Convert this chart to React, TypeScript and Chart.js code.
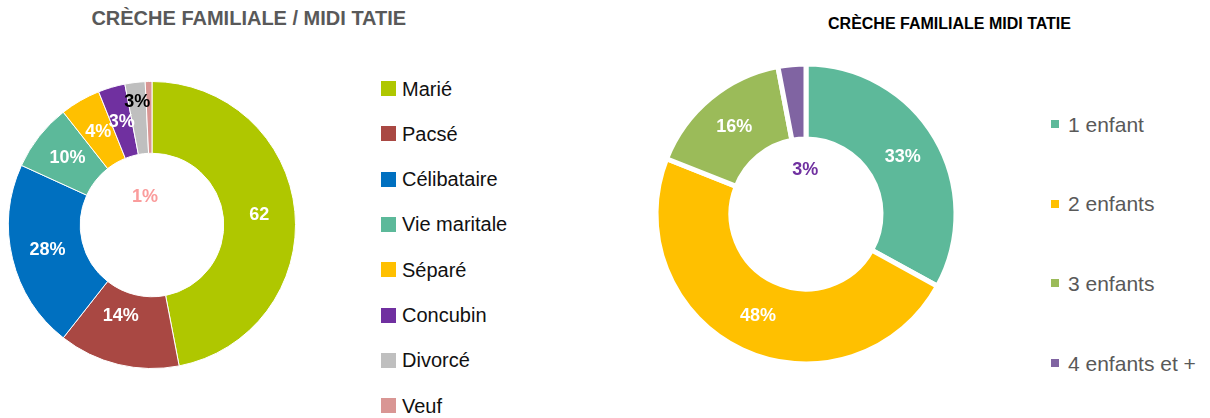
import React, { useEffect, useRef } from "react";
import { Chart, registerables } from "chart.js";

Chart.register(...registerables);

// ---------- data ----------
const leftTitle = "CRÈCHE FAMILIALE / MIDI TATIE";
const leftCategories = ["Marié", "Pacsé", "Célibataire", "Vie maritale", "Séparé", "Concubin", "Divorcé", "Veuf"];
const leftValues = [62, 18, 28, 10, 6, 4, 3, 1];
const leftLabels = ["62", "14%", "28%", "10%", "4%", "3%", "3%", "1%"];

const rightTitle = "CRÈCHE FAMILIALE MIDI TATIE";
const rightCategories = ["1 enfant", "2 enfants", "3 enfants", "4 enfants et +"];
const rightValues = [33, 48, 16, 3];
const rightLabels = ["33%", "48%", "16%", "3%"];

// ---------- styles ----------
const leftColors = ["#AFC700", "#A94843", "#0070C0", "#5CB99A", "#FFC000", "#7030A0", "#BFBFBF", "#D99694"];
const leftLabelColors = ["#FFFFFF", "#FFFFFF", "#FFFFFF", "#FFFFFF", "#FFFFFF", "#FFFFFF", "#000000", "#FA9C9C"];
const leftLabelRadii: (number | null)[] = [null, 0.67, null, null, null, null, 0.863, 0.204];
const leftLabelAngles: (number | null)[] = [null, 199, null, null, null, null, null, 346];

const rightColors = ["#5DB99A", "#FFC000", "#9BBB59", "#8064A2"];
const rightLabelColors = ["#FFFFFF", "#FFFFFF", "#FFFFFF", "#7030A0"];
const rightLabelRadii: (number | null)[] = [null, null, null, 0.294];
const rightLabelAngles: (number | null)[] = [null, null, null, 359];

const FONT = "'Liberation Sans', Arial, sans-serif";

const sliceLabels = {
  id: "sliceLabels",
  afterDatasetsDraw(chart: any, _args: any, opts: any) {
    const meta = chart.getDatasetMeta(0);
    const ctx = chart.ctx;
    ctx.save();
    ctx.font = `bold 18px ${FONT}`;
    ctx.textAlign = "center";
    ctx.textBaseline = "middle";
    meta.data.forEach((arc: any, i: number) => {
      const p = arc.getProps(["x", "y", "startAngle", "endAngle", "innerRadius", "outerRadius"], true);
      const ang = opts.angles[i] != null ? ((opts.angles[i] - 90) * Math.PI) / 180 : (p.startAngle + p.endAngle) / 2;
      const r = opts.radii[i] != null ? opts.radii[i] * p.outerRadius : (p.innerRadius + p.outerRadius) / 2;
      ctx.fillStyle = opts.colors[i];
      ctx.fillText(opts.labels[i], p.x + Math.cos(ang) * r, p.y + Math.sin(ang) * r);
    });
    ctx.restore();
  },
};

function Donut(props: any) {
  const ref = useRef<HTMLCanvasElement>(null);
  useEffect(() => {
    const chart = new Chart(ref.current as HTMLCanvasElement, {
      type: "doughnut",
      data: {
        labels: props.categories,
        datasets: [
          {
            data: props.values,
            backgroundColor: props.colors,
            borderColor: "#FFFFFF",
            borderWidth: props.borderWidth,
            radius: props.radius,
            cutout: props.cutout,
          } as any,
        ],
      },
      options: {
        responsive: false,
        maintainAspectRatio: false,
        animation: false,
        events: [],
        layout: { padding: 0 },
        plugins: {
          legend: { display: false },
          tooltip: { enabled: false },
          title: { display: false },
          sliceLabels: {
            labels: props.labels,
            colors: props.labelColors,
            radii: props.labelRadii,
            angles: props.labelAngles,
          },
        } as any,
      },
      plugins: [sliceLabels as any],
    });
    return () => chart.destroy();
  }, []);
  return (
    <canvas
      ref={ref}
      width={props.size}
      height={props.size}
      style={{ position: "absolute", left: props.left, top: props.top, width: props.size, height: props.size }}
    />
  );
}

function Legend(props: any) {
  return (
    <>
      {props.categories.map((c: string, i: number) => {
        const cy = props.y0 + i * props.step;
        return (
          <React.Fragment key={c}>
            <div
              style={{
                position: "absolute",
                left: props.sqX,
                top: cy - props.sq / 2,
                width: props.sq,
                height: props.sq,
                background: props.colors[i],
              }}
            />
            <div
              style={{
                position: "absolute",
                left: props.textX,
                top: cy - props.fontSize / 2,
                fontFamily: FONT,
                fontSize: props.fontSize,
                lineHeight: `${props.fontSize}px`,
                color: props.color,
                whiteSpace: "nowrap",
              }}
            >
              {c}
            </div>
          </React.Fragment>
        );
      })}
    </>
  );
}

export default function App() {
  return (
    <div style={{ position: "absolute", left: 0, top: 0, width: 1210, height: 418, background: "#FFFFFF", overflow: "hidden" }}>
      <div
        style={{
          position: "absolute",
          left: 48.8,
          width: 400,
          top: 7.5,
          textAlign: "center",
          fontFamily: FONT,
          fontWeight: "bold",
          fontSize: 20,
          lineHeight: "20px",
          color: "#595959",
          whiteSpace: "nowrap",
        }}
      >
        {leftTitle}
      </div>
      <div
        style={{
          position: "absolute",
          left: 799.5,
          width: 300,
          top: 16.2,
          textAlign: "center",
          fontFamily: FONT,
          fontWeight: "bold",
          fontSize: 16,
          lineHeight: "16px",
          color: "#000000",
          whiteSpace: "nowrap",
        }}
      >
        {rightTitle}
      </div>

      <Donut
        categories={leftCategories}
        values={leftValues}
        colors={leftColors}
        labels={leftLabels}
        labelColors={leftLabelColors}
        labelRadii={leftLabelRadii}
        labelAngles={leftLabelAngles}
        radius={143.5}
        cutout="50%"
        borderWidth={1}
        size={300}
        left={2}
        top={75}
      />
      <Legend
        categories={leftCategories}
        colors={leftColors}
        y0={88.5}
        step={45.3}
        sqX={381}
        sq={15}
        textX={402}
        fontSize={20}
        color="#111111"
      />

      <Donut
        categories={rightCategories}
        values={rightValues}
        colors={rightColors}
        labels={rightLabels}
        labelColors={rightLabelColors}
        labelRadii={rightLabelRadii}
        labelAngles={rightLabelAngles}
        radius={150}
        cutout="50%"
        borderWidth={5}
        size={320}
        left={646}
        top={54}
      />
      <Legend
        categories={rightCategories}
        colors={rightColors}
        y0={124}
        step={79.7}
        sqX={1051}
        sq={8}
        textX={1068}
        fontSize={21}
        color="#595959"
      />
    </div>
  );
}
